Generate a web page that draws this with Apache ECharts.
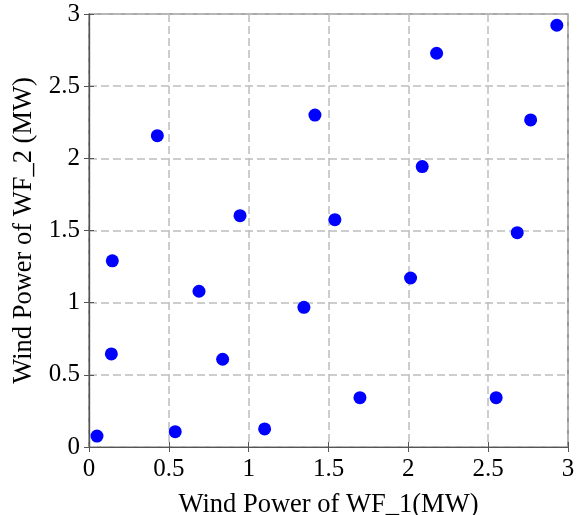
<!DOCTYPE html>
<html><head><meta charset="utf-8">
<script src="https://cdn.jsdelivr.net/npm/echarts@6/dist/echarts.min.js"></script>
<style>html,body{margin:0;padding:0;background:#fff}#c{width:579px;height:515px}</style>
</head><body><div id="c"></div>
<script>
const wf1 = [0.05,0.14,0.146,0.428,0.54,0.689,0.837,0.946,1.10,1.346,1.415,1.54,1.697,2.014,2.087,2.177,2.55,2.682,2.766,2.93];
const wf2 = [0.076,0.645,1.29,2.157,0.106,1.079,0.608,1.603,0.125,0.968,2.30,1.575,0.342,1.171,1.943,2.728,0.342,1.485,2.266,2.922];
const xTitle = 'Wind Power of WF_1(MW)';
const yTitle = 'Wind Power of WF_2 (MW)';
const font = '"Liberation Serif","Times New Roman",serif';
const chart = echarts.init(document.getElementById('c'));
const gridLine = {show:true, lineStyle:{color:'#bdbdbd', width:1.5, type:[8,4]}};
const axisLine = {show:true, lineStyle:{color:'#555', width:1.2}};
const tick = {show:true, inside:true, length:5, lineStyle:{color:'#555'}};
chart.setOption({
  animation:false,
  grid:{left:89, right:11, top:14, bottom:68, show:true, borderColor:'#555', borderWidth:1.2, containLabel:false, outerBoundsMode:'none'},
  xAxis:[{type:'value', min:0, max:3, interval:0.5, axisLine, axisTick:tick, splitLine:gridLine,
    axisLabel:{color:'#000', fontFamily:font, fontSize:25, margin:10},
    name:xTitle, nameLocation:'middle', nameGap:45, nameTextStyle:{color:'#000', fontFamily:font, fontSize:26.5}},
    {type:'value', position:'top', min:0, max:3, interval:0.5, axisLine, axisTick:tick, axisLabel:{show:false}, splitLine:{show:false}}],
  yAxis:[{type:'value', min:0, max:3, interval:0.5, axisLine, axisTick:tick, splitLine:gridLine,
    axisLabel:{color:'#000', fontFamily:font, fontSize:25, margin:9},
    name:yTitle, nameLocation:'middle', nameGap:38, nameTextStyle:{color:'#000', fontFamily:font, fontSize:26.5}},
    {type:'value', position:'right', min:0, max:3, interval:0.5, axisLine, axisTick:tick, axisLabel:{show:false}, splitLine:{show:false}}],
  series:[{type:'scatter', symbolSize:13, itemStyle:{color:'#0000ff', opacity:1},
    data: wf1.map((x,i)=>[x, wf2[i]])}]
});
</script></body></html>
